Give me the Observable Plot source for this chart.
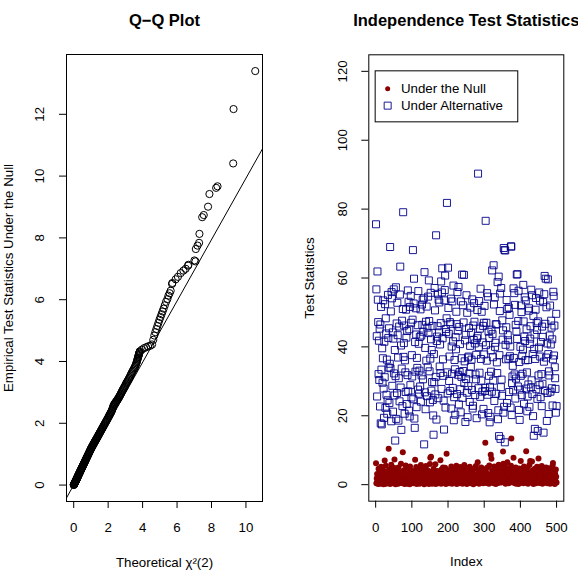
<!DOCTYPE html>
<html>
<head>
<meta charset="utf-8">
<script src="https://cdn.jsdelivr.net/npm/d3@7"></script>
<script src="https://cdn.jsdelivr.net/npm/@observablehq/plot@0.6"></script>
<style>
  html, body { margin: 0; padding: 0; background: #fff; }
  #wrap { display: flex; width: 578px; height: 584px; overflow: hidden; }
  #wrap svg { flex: none; }
</style>
</head>
<body>
<div id="wrap"></div>
<script>
// ---- Q-Q plot: theoretical chi-square(2) quantiles vs. empirical null statistics ----
const qqTheoretical = [
  0.003,0.007,0.012,0.016,0.020,0.025,0.030,0.034,0.039,0.044,0.049,0.054,0.059,0.064,0.069,0.075,0.080,0.086,0.091,0.097,
  0.103,0.109,0.115,0.121,0.127,0.133,0.140,0.146,0.153,0.160,0.166,0.173,0.180,0.188,0.195,0.202,0.210,0.218,0.225,0.233,
  0.241,0.249,0.258,0.266,0.275,0.283,0.292,0.301,0.310,0.319,0.329,0.338,0.348,0.358,0.368,0.378,0.388,0.399,0.409,0.420,
  0.431,0.442,0.454,0.465,0.477,0.489,0.501,0.513,0.526,0.539,0.552,0.565,0.578,0.592,0.606,0.620,0.635,0.649,0.664,0.680,
  0.695,0.711,0.727,0.744,0.761,0.778,0.795,0.813,0.831,0.850,0.869,0.888,0.908,0.928,0.949,0.970,0.991,
  1.005,1.020,1.036,1.052,1.068,1.085,1.102,1.119,1.136,1.154,1.172,1.190,1.208,1.227,1.246,1.265,1.284,1.304,1.324,1.344,
  1.365,1.386,1.407,1.428,1.450,1.472,1.494,1.517,1.540,1.563,1.587,1.611,1.635,1.660,1.685,1.710,1.736,1.762,1.789,1.816,
  1.843,1.871,1.899,1.928,1.957,1.986,
  2.020,2.040,2.061,2.082,2.103,2.125,2.146,2.168,2.190,2.212,2.235,2.258,2.281,2.305,2.328,2.352,2.376,2.400,2.425,2.450,
  2.475,2.500,2.526,2.552,2.578,2.604,2.631,2.658,2.686,2.714,2.742,2.771,2.800,2.830,2.859,2.890,2.920,2.951,2.982,3.014,
  3.046,3.079,3.112,3.146,3.180,3.215,3.250,3.286,3.322,3.359,3.396,3.435,3.473,3.512,3.552,3.581,3.610,3.635,3.660,3.680,
  3.700,3.718,3.735,3.750,3.765,3.778,3.790,3.802,3.815,3.828,3.840,
  3.95,4.08,4.20,4.32,4.45,4.55,4.62,4.68,4.74,4.80,4.86,4.92,4.98,5.04,5.10,5.16,5.22,5.29,5.36,5.44,
  5.50,5.57,5.63,5.71,5.73,5.92,6.05,6.21,6.37,6.50,6.64,6.66,7.01,7.07,7.09,7.19,7.28,7.30,7.46,7.55,
  7.80,7.88,8.27,8.35,9.26,9.28,10.54
];
const qqEmpirical = [
  0.004,0.008,0.013,0.018,0.022,0.028,0.033,0.038,0.043,0.049,0.055,0.060,0.066,0.072,0.078,0.085,0.091,0.098,0.104,0.111,
  0.118,0.125,0.132,0.139,0.146,0.153,0.161,0.168,0.176,0.184,0.191,0.199,0.208,0.217,0.225,0.234,0.243,0.253,0.262,0.271,
  0.281,0.291,0.301,0.311,0.322,0.331,0.342,0.352,0.363,0.373,0.385,0.396,0.407,0.419,0.431,0.442,0.454,0.467,0.479,0.492,
  0.505,0.518,0.532,0.545,0.559,0.573,0.587,0.601,0.616,0.631,0.647,0.662,0.677,0.694,0.710,0.727,0.744,0.761,0.778,0.797,
  0.815,0.834,0.852,0.872,0.892,0.912,0.932,0.953,0.974,0.996,1.018,1.040,1.064,1.087,1.112,1.136,1.161,
  1.178,1.194,1.211,1.228,1.244,1.261,1.278,1.296,1.313,1.331,1.349,1.366,1.384,1.403,1.421,1.441,1.460,1.480,1.499,1.519,
  1.540,1.561,1.583,1.604,1.626,1.648,1.670,1.693,1.716,1.740,1.764,1.788,1.812,1.837,1.862,1.888,1.914,1.940,1.967,1.994,
  2.021,2.049,2.077,2.106,2.135,2.164,
  2.205,2.225,2.245,2.268,2.290,2.312,2.335,2.358,2.380,2.410,2.440,2.480,2.520,2.555,2.590,2.610,2.630,2.650,2.670,2.690,
  2.710,2.730,2.750,2.772,2.795,2.820,2.845,2.872,2.900,2.930,2.960,2.995,3.030,3.060,3.090,3.120,3.150,3.180,3.210,3.250,
  3.290,3.320,3.350,3.385,3.420,3.455,3.490,3.535,3.580,3.620,3.660,3.700,3.740,3.780,3.820,3.860,3.900,3.940,3.980,4.020,
  4.060,4.095,4.130,4.160,4.190,4.215,4.240,4.265,4.290,4.310,4.330,
  4.38,4.43,4.46,4.49,4.51,4.55,4.70,4.84,4.95,5.05,5.15,5.25,5.35,5.44,5.53,5.62,5.71,5.82,5.93,6.02,
  6.13,6.21,6.29,6.51,6.54,6.66,6.74,6.86,6.94,7.00,7.10,7.13,7.27,7.24,7.64,7.75,7.84,8.13,8.67,8.74,
  9.01,9.42,9.62,9.67,10.41,12.17,13.40
];
const qqLine = { intercept: 0.0, slope: 0.993 };
const qqXTicks = [0, 2, 4, 6, 8, 10];
const qqYTicks = [0, 2, 4, 6, 8, 10, 12];

// ---- Index plot: test statistics for 500 replicates ----
const nullStats = [
  6.2,0.4,1.8,3.1,0.9,2.4,0.2,4.6,1.2,0.7,3.6,1.5,0.3,2.1,5.2,0.8,1.1,2.9,0.5,4.1,1.6,0.1,2.6,3.4,7.0,
  0.6,1.9,5.5,0.3,2.2,1.0,3.8,0.7,1.4,2.7,10.4,0.9,4.4,1.7,0.2,3.0,1.3,5.8,0.5,2.0,1.1,3.5,0.4,2.5,4.9,
  1.2,7.3,0.8,2.3,0.1,3.9,1.6,0.6,4.7,2.8,1.0,0.3,5.0,1.9,0.7,3.2,1.4,2.2,0.5,6.1,1.1,3.7,0.9,2.6,9.4,
  0.4,1.5,4.2,2.0,0.2,3.3,1.2,5.6,0.6,2.9,1.8,0.3,4.5,1.0,2.4,0.8,3.6,1.3,0.1,5.3,2.1,0.7,1.6,3.0,0.5,
  2.7,1.1,4.0,0.4,1.9,3.4,0.9,2.3,7.2,0.6,1.4,5.1,0.2,2.8,1.7,3.9,0.8,1.0,4.8,2.5,0.3,1.5,3.2,0.7,5.7,
  1.2,2.0,0.5,3.7,1.8,0.9,4.3,2.6,0.1,1.3,3.1,0.6,2.2,5.4,1.0,0.4,2.9,1.6,4.1,0.8,2.4,0.2,3.5,1.1,6.0,
  7.8,0.7,8.1,1.4,2.1,0.3,3.8,1.9,0.9,4.6,2.7,0.5,1.2,3.3,5.9,0.2,1.7,2.5,0.8,4.0,1.0,3.0,0.4,2.3,1.5,
  0.6,3.6,2.0,7.1,1.3,0.3,4.4,2.8,0.9,1.6,5.0,0.5,2.2,3.4,1.1,0.7,4.9,1.8,0.2,2.6,9.0,1.4,3.2,0.8,2.0,
  1.0,4.2,0.4,2.5,1.7,3.9,0.6,1.2,5.3,2.9,0.3,1.9,3.5,0.8,2.4,4.7,1.1,0.5,3.1,1.5,0.9,2.1,5.5,0.2,3.7,
  1.3,2.7,0.7,4.5,1.8,0.4,3.0,2.2,5.1,1.0,0.6,3.8,1.6,2.5,0.3,4.3,1.2,2.0,0.8,5.7,1.5,3.3,0.5,2.8,1.1,
  3.6,0.2,1.9,4.8,0.9,2.3,1.4,0.6,3.2,5.2,1.7,0.4,2.6,1.0,4.0,0.7,2.1,3.5,1.3,0.1,4.6,1.8,2.9,0.8,1.2,
  2.4,5.4,0.5,1.6,3.1,0.9,6.5,2.0,1.1,4.2,0.3,2.7,1.5,3.8,0.6,1.9,5.0,2.3,0.8,1.3,3.4,0.4,2.5,4.4,1.0,
  0.7,2.9,12.2,1.4,3.6,0.5,1.8,4.9,2.2,0.9,3.0,1.2,0.3,5.6,2.6,1.6,0.6,8.7,1.1,7.5,2.0,4.1,0.8,3.3,1.5,
  0.4,2.8,5.3,1.0,3.9,1.7,0.2,2.4,4.5,1.3,0.7,3.2,2.1,0.5,5.8,1.9,2.9,0.9,4.2,1.4,3.7,0.6,2.3,1.1,4.8,
  1.6,9.6,6.1,0.8,3.5,2.0,1.2,5.1,0.3,2.7,4.0,1.5,0.7,6.5,3.1,1.8,0.4,2.5,4.6,1.0,3.4,0.6,2.2,5.5,13.4,
  1.3,3.0,0.9,2.6,4.3,7.8,1.7,0.5,3.6,2.1,1.1,5.0,0.3,2.9,4.1,1.4,0.8,3.3,1.9,0.2,2.4,4.7,1.0,3.8,0.6,
  6.9,1.5,2.8,0.7,4.4,1.2,3.2,0.4,2.0,5.3,1.6,0.9,3.9,2.3,1.1,9.7,0.5,2.6,4.9,1.8,0.3,3.5,1.3,2.1,5.7,
  0.8,6.9,1.7,3.0,0.6,2.5,6.7,1.0,4.2,1.4,0.2,3.6,2.2,0.9,4.6,1.6,2.9,0.4,3.3,1.2,5.2,2.0,0.7,3.8,7.6,
  1.1,2.4,0.5,4.1,1.9,3.1,0.8,2.7,5.4,1.3,0.3,3.7,2.0,1.5,4.5,0.6,2.6,1.0,3.4,0.9,5.0,1.7,2.2,0.4,3.9,
  1.2,4.8,0.7,2.8,1.6,3.5,0.3,2.1,4.3,1.0,0.5,3.0,1.8,5.6,6.3,0.9,2.5,4.0,1.4,0.2,3.2,1.1,4.4,2.3,0.6
];
const altStats = [
  75.6,56.7,43.1,25.6,61.9,53.7,47.2,32.1,41.8,30.4,45.3,22.7,46.5,17.8,51.6,33.4,17.5,39.6,29.6,36.7,
  53.5,27.9,19.4,41.5,31.2,52.4,22.3,48.3,43.9,26.1,36.3,20.6,24.5,55.1,42.6,34.0,45.4,23.7,35.1,69.0,
  33.8,50.3,18.4,55.9,54.1,28.7,44.2,21.2,42.4,56.7,32.3,25.9,39.1,12.8,31.5,57.3,19.1,46.8,26.6,52.8,
  43.4,36.9,18.6,30.9,45.9,24.2,55.2,63.3,28.2,40.4,15.9,33.7,47.6,22.8,51.0,79.1,37.1,41.1,46.2,20.6,
  36.1,32.6,26.9,50.8,42.7,23.4,44.6,31.8,56.4,27.1,53.1,21.5,45.1,19.8,51.6,28.9,54.8,47.0,25.3,37.6,
  31.4,47.9,68.1,24.8,52.6,59.8,19.2,16.5,41.4,32.8,51.2,43.6,22.5,36.8,33.9,46.3,27.6,56.2,40.9,26.4,
  33.1,42.9,28.5,50.9,24.1,43.3,31.7,52.3,46.4,53.7,30.6,44.4,54.1,11.7,61.7,26.8,39.7,21.9,47.3,36.0,
  51.7,25.7,45.6,34.1,54.6,44.0,59.3,47.5,32.9,23.9,36.6,55.7,42.2,27.3,39.1,29.8,46.1,24.6,20.1,14.5,
  37.9,29.7,57.1,50.6,26.2,31.3,72.4,18.9,41.7,43.0,46.0,55.4,25.1,53.7,44.2,52.9,34.3,40.7,32.4,46.9,
  59.0,27.8,55.8,62.8,42.5,36.4,31.6,24.4,16.0,53.5,56.5,60.7,22.4,45.2,44.3,48.3,81.8,32.6,26.5,63.0,
  51.3,43.8,30.1,37.2,47.2,27.2,46.7,54.0,22.1,40.1,32.2,53.2,28.1,41.6,57.8,18.7,25.4,36.2,33.5,20.3,
  42.8,39.3,50.2,46.6,26.3,55.9,44.7,31.9,57.4,23.3,45.8,32.7,40.8,27.7,21.0,53.2,31.3,36.7,61.0,25.2,
  52.1,33.0,47.1,60.9,29.5,35.8,41.9,18.2,43.5,30.7,55.0,26.7,49.9,19.6,36.9,28.6,37.2,45.5,32.3,24.0,
  40.3,51.4,34.2,44.1,36.3,27.5,53.8,22.1,22.9,46.2,42.0,52.7,47.3,41.0,26.0,32.0,30.6,37.7,19.3,42.5,
  50.7,43.2,90.3,28.0,39.9,53.3,32.5,45.3,25.5,56.9,36.5,30.2,50.2,20.4,27.0,41.3,46.1,22.0,47.0,37.8,
  51.9,27.2,28.1,76.6,40.5,47.0,36.0,55.6,26.1,54.6,20.8,44.4,31.6,42.6,18.1,28.4,19.7,39.0,32.8,45.0,
  27.0,62.2,43.7,37.0,30.2,63.7,52.3,24.3,54.4,40.0,41.2,46.6,26.4,46.5,35.5,32.4,58.8,19.0,21.6,60.4,
  14.1,37.6,50.4,55.5,13.3,28.3,57.1,30.5,25.8,47.7,42.1,44.8,20.9,68.7,22.6,68.1,12.3,68.0,40.6,36.4,
  45.7,53.6,23.7,51.0,43.4,41.9,36.6,51.4,26.9,49.3,37.3,40.1,22.4,69.2,69.1,20.2,29.5,31.4,34.5,27.4,
  57.0,36.8,55.6,32.0,52.2,25.0,46.4,30.8,44.5,61.0,42.3,61.1,28.5,47.5,56.3,21.7,35.6,18.8,27.6,40.0,
  31.6,52.0,50.1,26.0,37.4,32.2,39.2,58.0,47.4,23.5,43.0,54.4,41.7,36.1,53.5,27.9,45.1,32.6,21.3,25.6,
  36.2,29.1,50.5,51.2,22.6,40.9,42.4,46.0,28.2,56.6,30.3,55.0,26.3,37.9,19.9,49.0,14.2,39.4,43.6,16.2,
  36.5,50.8,54.2,27.7,46.9,44.9,24.9,15.6,47.4,31.7,39.8,55.8,28.9,53.4,37.2,25.4,41.4,32.1,22.8,45.9,
  29.3,42.9,53.0,15.1,35.7,55.3,60.6,27.3,46.7,59.8,36.9,51.5,18.5,41.0,26.6,59.6,37.9,20.5,32.9,31.7,
  43.3,52.0,27.0,40.7,47.6,45.6,28.0,42.2,23.0,36.4,56.0,54.7,37.5,46.2,34.1,30.9,27.8,20.9,49.6,22.8
];
const indexYLim = [0, 120];
const indexXTicks = [0, 100, 200, 300, 400, 500];
const indexYTicks = [0, 20, 40, 60, 80, 100, 120];
const legendAt = [0, 120];
const legendLabels = ["Under the Null", "Under Alternative"];

// ---- shared styling ----
const FONT = "'Liberation Sans', Arial, Helvetica, sans-serif";
const FS = 13.3;
const NULL_COLOR = "#8B0000";
const ALT_COLOR = "#00008B";
const baseStyle = { fontFamily: FONT, fontSize: FS + "px", color: "black", background: "white", overflow: "visible" };

// R-style axis range: data range extended by 4% on each side
const pad = ([lo, hi]) => { const r = hi - lo; return [lo - 0.04 * r, hi + 0.04 * r]; };

// Rotated y tick labels, R style
const yLabels = (ticks) => Plot.text(ticks, {
  y: d => d, text: d => String(d), frameAnchor: "left", dx: -26.5, rotate: -90,
  textAnchor: "middle", lineAnchor: "middle", fontSize: FS
});
const title = (s) => Plot.text([s], {
  text: d => d, frameAnchor: "top", dy: -34, textAnchor: "middle", lineAnchor: "middle",
  fontWeight: "bold", fontSize: 16.5
});
const xTitle = (s) => Plot.text([s], {
  text: d => d, frameAnchor: "bottom", dy: 61, textAnchor: "middle", lineAnchor: "middle", fontSize: FS
});
const yTitle = (s, dx) => Plot.text([s], {
  text: d => d, frameAnchor: "left", dx, rotate: -90, textAnchor: "middle", lineAnchor: "middle", fontSize: FS
});

// ---- left panel ----
const qqPoints = qqTheoretical.map((t, i) => ({ t, e: qqEmpirical[i] }));
const qqXDomain = pad(d3.extent(qqTheoretical));
const qqYDomain = pad(d3.extent(qqEmpirical));
const qqLinePts = qqXDomain.map(x => ({ x, y: qqLine.intercept + qqLine.slope * x }));

const left = Plot.plot({
  width: 289, height: 584,
  marginLeft: 66, marginRight: 27, marginTop: 54, marginBottom: 83,
  x: { domain: qqXDomain },
  y: { domain: qqYDomain },
  style: baseStyle,
  marks: [
    Plot.line(qqLinePts, { x: "x", y: "y", stroke: "black", strokeWidth: 1, clip: true }),
    Plot.dot(qqPoints, { x: "t", y: "e", r: 3.6, stroke: "black", strokeWidth: 1, fill: "none" }),
    Plot.frame({ stroke: "black", strokeWidth: 1 }),
    Plot.axisX({ ticks: qqXTicks, tickSize: 7, tickPadding: 14.5, label: null, fontSize: FS }),
    Plot.axisY({ ticks: qqYTicks, tickSize: 7, tickFormat: () => "", label: null }),
    yLabels(qqYTicks),
    title("Q\u2212Q Plot"),
    xTitle("Theoretical \u03C7\u00B2(2)"),
    yTitle("Empirical Test Statistics Under the Null", -58)
  ]
});

// ---- right panel ----
const idx = (d, i) => i + 1;

// legend box anchored at the legend's top-left data position
const legendBox = (index, scales) => {
  const r = document.createElementNS("http://www.w3.org/2000/svg", "rect");
  r.setAttribute("x", scales.x(legendAt[0]));
  r.setAttribute("y", scales.y(legendAt[1]));
  r.setAttribute("width", 142.6);
  r.setAttribute("height", 51);
  r.setAttribute("fill", "white");
  r.setAttribute("stroke", "black");
  return r;
};
const legendText = (i, dy) => Plot.text([legendLabels[i]], {
  x: () => legendAt[0], y: () => legendAt[1], text: d => d, dx: 25.3, dy,
  textAnchor: "start", lineAnchor: "middle", fontSize: FS
});

const right = Plot.plot({
  width: 289, height: 584,
  marginLeft: 79.3, marginRight: 14.7, marginTop: 54.3, marginBottom: 83.3,
  x: { domain: pad([1, altStats.length]) },
  y: { domain: pad(indexYLim) },
  style: baseStyle,
  marks: [
    Plot.dot(nullStats, { x: idx, y: d => d, r: 3, fill: NULL_COLOR }),
    Plot.dot(altStats, { x: idx, y: d => d, symbol: "square", r: 3.95, stroke: ALT_COLOR, strokeWidth: 0.9, fill: "none" }),
    Plot.frame({ stroke: "black", strokeWidth: 1 }),
    Plot.axisX({ ticks: indexXTicks, tickSize: 7, tickPadding: 14.5, label: null, fontSize: FS }),
    Plot.axisY({ ticks: indexYTicks, tickSize: 7, tickFormat: () => "", label: null }),
    yLabels(indexYTicks),
    title("Independence Test Statistics"),
    xTitle("Index"),
    yTitle("Test Statistics", -59),
    legendBox,
    Plot.dot([legendAt], { x: d => d[0], y: d => d[1], dx: 12, dy: 17.3, r: 2.5, fill: NULL_COLOR }),
    Plot.dot([legendAt], { x: d => d[0], y: d => d[1], dx: 12, dy: 34.3, symbol: "square", r: 3.95, stroke: ALT_COLOR, strokeWidth: 0.9, fill: "none" }),
    legendText(0, 17.3),
    legendText(1, 34.3)
  ]
});

const wrap = document.getElementById("wrap");
wrap.appendChild(left);
wrap.appendChild(right);
</script>
</body>
</html>
